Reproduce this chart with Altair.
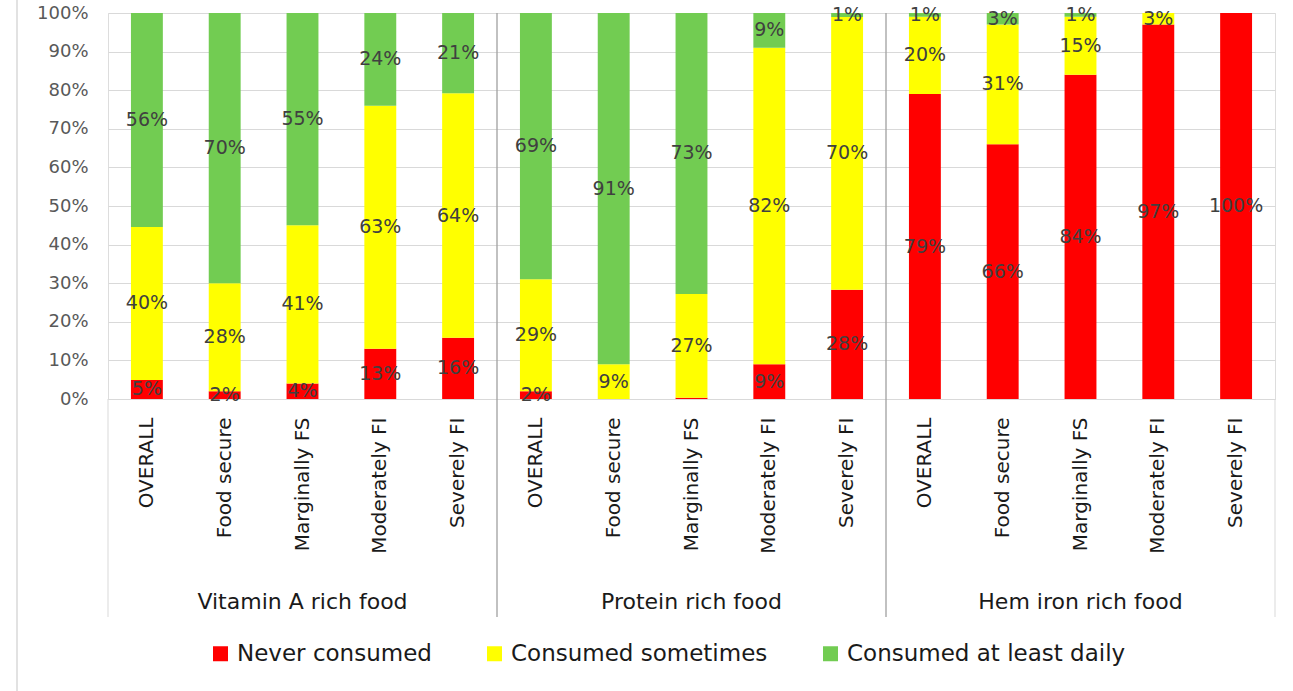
import altair as alt
import pandas as pd

groups = ["Vitamin A rich food", "Protein rich food", "Hem iron rich food"]
subgroups = ["OVERALL", "Food secure", "Marginally FS", "Moderately FI", "Severely FI"]
series = ["Never consumed", "Consumed sometimes", "Consumed at least daily"]
colors = ["#FF0000", "#FFFF00", "#72CC52"]

# values per group, per subgroup: [never, sometimes, daily]
vitamin_a = [[5, 40, 56], [2, 28, 70], [4, 41, 55], [13, 63, 24], [16, 64, 21]]
protein = [[2, 29, 69], [0, 9, 91], [0.3, 27, 73], [9, 82, 9], [28, 70, 1]]
hem_iron = [[79, 20, 1], [66, 31, 3], [84, 15, 1], [97, 3, 0], [100, 0, 0]]
all_values = [vitamin_a, protein, hem_iron]

y_ticks = [0, 0.1, 0.2, 0.3, 0.4, 0.5, 0.6, 0.7, 0.8, 0.9, 1.0]

keys = [f"{g}|{s}" for g in groups for s in subgroups]

rows = []
for g, gvals in zip(groups, all_values):
    for s, vals in zip(subgroups, gvals):
        for i, (ser, v) in enumerate(zip(series, vals)):
            rows.append({"group": g, "sub": s, "key": f"{g}|{s}", "series": ser,
                         "order": i, "value": v, "label": f"{round(v)}%"})
df = pd.DataFrame(rows)

FONT = "DejaVu Sans"
xscale = alt.Scale(domain=keys, paddingInner=0, paddingOuter=0)
yscale = alt.Scale(domain=[0, 1])

x_axis = alt.Axis(title=None, labelExpr="split(datum.value, '|')[1]",
                  labelAngle=270, labelFont=FONT, labelFontSize=20,
                  labelColor="#1a1a1a", labelPadding=18, ticks=False,
                  domainColor="#d9d9d9", grid=False, labelLimit=300)
y_axis = alt.Axis(title=None, format=".0%", values=y_ticks, tickCount=11,
                  labelFont=FONT, labelFontSize=18, labelColor="#595959",
                  labelPadding=20, ticks=False, domain=False,
                  labelOverlap=False, labelBound=False,
                  gridColor="#d9d9d9", gridWidth=1)

base = alt.Chart(df).transform_stack(
    stack="value", groupby=["key"], as_=["y0", "y1"], offset="normalize",
    sort=[alt.SortField("order", order="ascending")]
).transform_calculate(mid="(datum.y0 + datum.y1) / 2")

bars = base.mark_bar(width={"band": 0.41}).encode(
    x=alt.X("key:N", scale=xscale, sort=keys, axis=x_axis),
    y=alt.Y("y0:Q", scale=yscale, axis=y_axis),
    y2="y1:Q",
    color=alt.Color("series:N", scale=alt.Scale(domain=series, range=colors),
                    sort=series,
                    legend=alt.Legend(orient="none", legendX=101, legendY=629,
                                      direction="horizontal", title=None,
                                      symbolType="square", symbolSize=225,
                                      symbolStrokeWidth=0,
                                      labelFont=FONT, labelFontSize=23,
                                      labelColor="#1a1a1a", columnPadding=51,
                                      labelOffset=5, labelLimit=400)),
)

labels = base.transform_filter("datum.value >= 1").mark_text(
    font=FONT, fontSize=19, color="#404040", baseline="middle", align="center"
).encode(
    x=alt.X("key:N", scale=xscale, sort=keys, axis=x_axis),
    y=alt.Y("mid:Q", scale=yscale, axis=y_axis),
    text="label:N",
)

sep_df = pd.DataFrame({"key": [keys[5], keys[10]]})
separators = alt.Chart(sep_df).mark_rule(color="#a0a0a0", strokeWidth=1.3).encode(
    x=alt.X("key:N", scale=xscale, sort=keys, bandPosition=0, axis=x_axis),
    y=alt.value(0), y2=alt.value(604),
)

left_edge = alt.Chart(pd.DataFrame({"key": [keys[0]]})).mark_rule(color="#d9d9d9").encode(
    x=alt.X("key:N", scale=xscale, sort=keys, bandPosition=0, axis=x_axis),
    y=alt.value(386), y2=alt.value(604),
)
right_edge = alt.Chart(pd.DataFrame({"key": [keys[-1]]})).mark_rule(color="#d9d9d9").encode(
    x=alt.X("key:N", scale=xscale, sort=keys, bandPosition=1, axis=x_axis),
    y=alt.value(386), y2=alt.value(604),
)

grp_df = pd.DataFrame({"key": [keys[2], keys[7], keys[12]], "group": groups})
group_text = alt.Chart(grp_df).mark_text(
    font=FONT, fontSize=22, color="#1a1a1a", baseline="middle", align="center"
).encode(
    x=alt.X("key:N", scale=xscale, sort=keys, axis=x_axis),
    y=alt.value(589),
    text="group:N",
)

border = alt.Chart(pd.DataFrame({"a": [0]})).mark_rule(color="#d9d9d9", strokeWidth=1.5).encode(
    x=alt.value(-91), y=alt.value(-13), y2=alt.value(678),
)

chart = alt.layer(bars, labels, separators, left_edge, right_edge, group_text, border).properties(
    width=1167, height=386,
    autosize=alt.AutoSizeParams(type="none"),
    padding={"left": 108, "top": 13, "right": 18, "bottom": 292},
).configure_view(strokeWidth=0).configure(background="white")

chart.save("out.html", embed_options={"renderer": "svg", "actions": False})
